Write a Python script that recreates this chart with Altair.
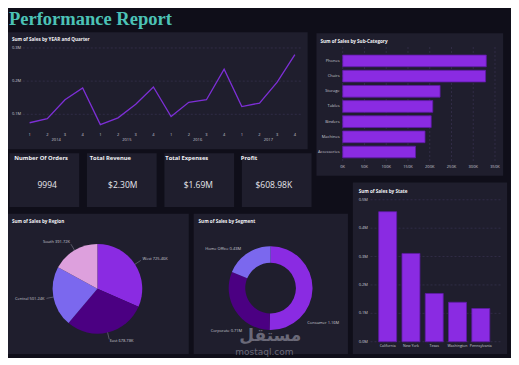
import altair as alt
import pandas as pd

# ---------------- data ----------------
years = ["2014", "2015", "2016", "2017"]
quarters = ["1", "2", "3", "4"]
quarter_sales = [0.0744, 0.0865, 0.1436, 0.1796,
                 0.0689, 0.0891, 0.1303, 0.1823,
                 0.0932, 0.1361, 0.1438, 0.2361,
                 0.1231, 0.1338, 0.1969, 0.2800]
line_ticks = [0.1, 0.2, 0.3]
line_tick_labels = ["0.1M", "0.2M", "0.3M"]

subcats = ["Phones", "Chairs", "Storage", "Tables", "Binders", "Machines", "Accessories"]
subcat_sales = [330.0, 328.4, 223.8, 207.0, 203.4, 189.2, 167.4]
subcat_ticks = [0, 50, 100, 150, 200, 250, 300, 350]
subcat_tick_labels = ["0K", "50K", "100K", "150K", "200K", "250K", "300K", "350K"]

kpi_titles = ["Number Of Orders", "Total Revenue", "Total Expenses", "Profit"]
kpi_values = ["9994", "$2.30M", "$1.69M", "$608.98K"]

regions = ["West", "East", "Central", "South"]
region_sales = [725.46, 678.78, 501.24, 391.72]

segments = ["Consumer", "Corporate", "Home Office"]
segment_sales = [1.16, 0.71, 0.43]

states = ["California", "New York", "Texas", "Washington", "Pennsylvania"]
state_sales = [0.458, 0.311, 0.170, 0.139, 0.117]
state_ticks = [0.0, 0.1, 0.2, 0.3, 0.4, 0.5]
state_tick_labels = ["0.0M", "0.1M", "0.2M", "0.3M", "0.4M", "0.5M"]

# ---------------- style / layout ----------------
W, H = 503, 350
SX, SY = W / 512, H / 359


def X(v):
    return round(v * SX, 2)


def Y(v):
    return round(v * SY, 2)


BG = "#0f0e19"
PANEL = "#1f1e2d"
GRID = "#3d3658"
LINE = "#7d2fd6"
PURPLE = "#8a2be2"
BAR_EDGE = "#5e1aa6"
INDIGO = "#4b0082"
SLATE = "#7b68ee"
PLUM = "#dda0dd"
TEAL = "#4cc2b6"
WHITE = "#f2f2f5"
LABEL = "#c9c9d2"
LEADER = "#8f8f9c"
FONT = "Open Sans"
TS = 4.6   # panel title size
AS = 4.0   # axis label size

one = pd.DataFrame({"k": [0]})


def rect(x0, y0, x1, y1, color=PANEL):
    return alt.Chart(one).mark_rect(color=color).encode(
        x=alt.value(X(x0)), x2=alt.value(X(x1)), y=alt.value(Y(y0)), y2=alt.value(Y(y1)))


def note(txt, x, y, size, color=WHITE, weight="bold", align="left", font=FONT, **kw):
    return alt.Chart(one).mark_text(text=txt, fontSize=size, color=color, fontWeight=weight,
                                    align=align, baseline="middle", font=font, **kw).encode(
        x=alt.value(X(x)), y=alt.value(Y(y)))


L = []

# title
L.append(note("Performance Report", 1, 11.5, 18.5, color=TEAL, font="Liberation Serif"))

# panels
L += [rect(0, 25, 305, 145), rect(314, 26, 504, 172), rect(0, 211, 184, 355),
      rect(189, 211, 346, 355), rect(351, 179, 508, 355)]

# ---------- line chart ----------
line_df = pd.DataFrame({"i": list(range(16)),
                        "year": [y for y in years for q in quarters],
                        "q": quarters * 4, "sales": quarter_sales})
lxs = alt.Scale(domain=[0, 15], range=[X(22), X(292)])
lys = alt.Scale(domain=[0, 0.3], range=[Y(143), Y(41)])
lt_df = pd.DataFrame({"v": line_ticks, "t": line_tick_labels})
L += [
    note("Sum of Sales by YEAR and Quarter", 4, 32.5, TS),
    alt.Chart(lt_df).mark_rule(color=GRID, strokeDash=[2, 2], strokeWidth=0.6).encode(
        y=alt.Y("v:Q", scale=lys, axis=None), x=alt.value(X(15)), x2=alt.value(X(300))),
    alt.Chart(lt_df).mark_text(fontSize=AS, color=LABEL, font=FONT, align="left").encode(
        y=alt.Y("v:Q", scale=lys, axis=None), x=alt.value(X(4)), text="t:N"),
    alt.Chart(line_df).mark_line(color=LINE, strokeWidth=1.3).encode(
        x=alt.X("i:Q", scale=lxs, axis=None), y=alt.Y("sales:Q", scale=lys, axis=None)),
    alt.Chart(line_df).mark_text(fontSize=AS, color=LABEL, font=FONT).encode(
        x=alt.X("i:Q", scale=lxs, axis=None), y=alt.value(Y(130.5)), text="q:N"),
    alt.Chart(line_df).transform_aggregate(c="mean(i)", groupby=["year"]).mark_text(
        fontSize=AS, color=LABEL, font=FONT).encode(
        x=alt.X("c:Q", scale=lxs, axis=None), y=alt.value(Y(135.5)), text="year:N"),
]

# ---------- sub-category bars ----------
sc_df = pd.DataFrame({"sub": subcats, "sales": subcat_sales})
scx = alt.Scale(domain=[0, 350], range=[X(340.7), X(495.7)])
scy = alt.Scale(domain=subcats, range=[Y(46.5), Y(155.5)], paddingInner=0.23, paddingOuter=0.115)
sct_df = pd.DataFrame({"v": subcat_ticks, "t": subcat_tick_labels})
L += [
    note("Sum of Sales by Sub-Category", 318, 34.5, TS),
    alt.Chart(sct_df).mark_rule(color=GRID, strokeDash=[2, 2], strokeWidth=0.6).encode(
        x=alt.X("v:Q", scale=scx, axis=None), y=alt.value(Y(40)), y2=alt.value(Y(158))),
    alt.Chart(sct_df).mark_text(fontSize=AS, color=LABEL, font=FONT).encode(
        x=alt.X("v:Q", scale=scx, axis=None), y=alt.value(Y(163.5)), text="t:N"),
    alt.Chart(sc_df).mark_bar(color=PURPLE, stroke=BAR_EDGE, strokeWidth=0.8).encode(
        x=alt.X("sales:Q", scale=scx, axis=None), y=alt.Y("sub:N", scale=scy, axis=None, sort=None)),
    alt.Chart(sc_df).mark_text(fontSize=AS, color=LABEL, font=FONT, align="right").encode(
        y=alt.Y("sub:N", scale=scy, axis=None, sort=None), x=alt.value(X(337.5)), text="sub:N"),
]

# ---------- KPI cards ----------
kpi_df = pd.DataFrame({"title": kpi_titles, "value": kpi_values})
kxs = alt.Scale(domain=kpi_titles, range=[X(1.5), X(309)], paddingInner=0.1, paddingOuter=0)
L += [
    alt.Chart(kpi_df).mark_rect(color=PANEL).encode(
        x=alt.X("title:N", scale=kxs, axis=None, sort=None), y=alt.value(Y(149)), y2=alt.value(Y(204))),
    alt.Chart(kpi_df).mark_text(fontSize=5.8, color=WHITE, font=FONT, fontWeight="bold",
                                align="left", dx=-33).encode(
        x=alt.X("title:N", scale=kxs, axis=None, sort=None), y=alt.value(Y(153.5)), text="title:N"),
    alt.Chart(kpi_df).mark_text(fontSize=8.5, color="#e6e6ec", font=FONT).encode(
        x=alt.X("title:N", scale=kxs, axis=None, sort=None), y=alt.value(Y(181.5)), text="value:N"),
]

# ---------- region pie ----------
reg_df = pd.DataFrame({"region": regions, "sales": region_sales})
pcx, pcy, pr = X(91), Y(288), 46 * SY
L.append(note("Sum of Sales by Region", 4, 219, TS))
L.append(alt.Chart(reg_df).mark_arc(outerRadius=pr).encode(
    theta=alt.Theta("sales:Q", stack=True),
    color=alt.Color("region:N", scale=alt.Scale(domain=regions, range=[PURPLE, INDIGO, SLATE, PLUM]),
                    legend=None),
    order=alt.Order("sales:Q", sort="descending"),
    x=alt.value(pcx), y=alt.value(pcy)))


def polar(base, cx, cy, r_lab, r0, r1, fmt, unit):
    return base.transform_joinaggregate(total="sum(sales)").transform_window(
        cum="sum(sales)", sort=[alt.SortField("sales", order="descending")]
    ).transform_calculate(
        ang="2*PI*(datum.cum - datum.sales/2)/datum.total"
    ).transform_calculate(
        lab=f"datum.name + ' ' + format(datum.sales, '{fmt}') + '{unit}'",
        tx=f"{cx} + {r_lab}*sin(datum.ang)", ty=f"{cy} - {r_lab}*cos(datum.ang)",
        ax=f"{cx} + {r0}*sin(datum.ang)", ay=f"{cy} - {r0}*cos(datum.ang)",
        bx=f"{cx} + {r1}*sin(datum.ang)", by=f"{cy} - {r1}*cos(datum.ang)",
    )


pie_lab = polar(alt.Chart(reg_df.rename(columns={"region": "name"})), pcx, pcy, pr + 9, pr, pr + 7, ".2f", "K")
L += [
    pie_lab.mark_rule(color=LEADER, strokeWidth=0.5).encode(
        x=alt.X("ax:Q", scale=None, axis=None), y=alt.Y("ay:Q", scale=None, axis=None),
        x2="bx:Q", y2="by:Q"),
    pie_lab.transform_filter("sin(datum.ang) >= 0").mark_text(
        fontSize=AS, color=LABEL, font=FONT, align="left").encode(
        x=alt.X("tx:Q", scale=None, axis=None), y=alt.Y("ty:Q", scale=None, axis=None), text="lab:N"),
    pie_lab.transform_filter("sin(datum.ang) < 0").mark_text(
        fontSize=AS, color=LABEL, font=FONT, align="right").encode(
        x=alt.X("tx:Q", scale=None, axis=None), y=alt.Y("ty:Q", scale=None, axis=None), text="lab:N"),
]

# ---------- segment donut ----------
seg_df = pd.DataFrame({"segment": segments, "sales": segment_sales})
dcx, dcy, dro, dri = X(267.3), Y(287.3), 43 * SY, 26 * SY
L.append(note("Sum of Sales by Segment", 194, 219, TS))
L.append(alt.Chart(seg_df).mark_arc(outerRadius=dro, innerRadius=dri).encode(
    theta=alt.Theta("sales:Q", stack=True),
    color=alt.Color("segment:N", scale=alt.Scale(domain=segments, range=[PURPLE, INDIGO, SLATE]),
                    legend=None),
    order=alt.Order("sales:Q", sort="descending"),
    x=alt.value(dcx), y=alt.value(dcy)))

don_lab = polar(alt.Chart(seg_df.rename(columns={"segment": "name"})), dcx, dcy, 50 * SY, dro, dro + 5, ".2f", "M")
for seg, align, dx, dy in [("Consumer", "left", -12, 34), ("Corporate", "right", 12.5, 16),
                           ("Home Office", "right", -2.5, 1.5)]:
    L.append(don_lab.transform_filter(f"datum.name == '{seg}'").mark_text(
        fontSize=AS, color=LABEL, font=FONT, align=align, dx=dx, dy=dy).encode(
        x=alt.X("tx:Q", scale=None, axis=None), y=alt.Y("ty:Q", scale=None, axis=None), text="lab:N"))

# ---------- state bars ----------
st_df = pd.DataFrame({"state": states, "sales": state_sales})
stx = alt.Scale(domain=states, range=[X(374.6), X(493.1)], paddingInner=0.228, paddingOuter=0.114)
sty = alt.Scale(domain=[0, 0.5], range=[Y(342.3), Y(196.7)])
stt_df = pd.DataFrame({"v": state_ticks, "t": state_tick_labels})
L += [
    note("Sum of Sales by State", 357, 188.5, TS),
    alt.Chart(stt_df).mark_rule(color=GRID, strokeDash=[2, 2], strokeWidth=0.6).encode(
        y=alt.Y("v:Q", scale=sty, axis=None), x=alt.value(X(369)), x2=alt.value(X(502))),
    alt.Chart(stt_df).mark_text(fontSize=AS, color=LABEL, font=FONT, align="left").encode(
        y=alt.Y("v:Q", scale=sty, axis=None), x=alt.value(X(357)), text="t:N"),
    alt.Chart(st_df).mark_bar(color=PURPLE, stroke=BAR_EDGE, strokeWidth=0.8).encode(
        x=alt.X("state:N", scale=stx, axis=None, sort=None), y=alt.Y("sales:Q", scale=sty, axis=None)),
    alt.Chart(st_df).mark_text(fontSize=3.6, color=LABEL, font=FONT).encode(
        x=alt.X("state:N", scale=stx, axis=None, sort=None), y=alt.value(Y(346.5)), text="state:N"),
]

# ---------- watermark ----------
L += [
    note("مستقل", 267, 336.5, 17, color="#9c9caa", font="DejaVu Sans", align="center", opacity=0.6),
    note("mostaql.com", 261, 353, 9, color="#9c9caa", weight="normal", font="DejaVu Sans",
         align="center", opacity=0.6),
]

chart = alt.layer(*L).properties(
    width=W, height=H, background=BG, padding=0,
    autosize=alt.AutoSizeParams(type="none"),
).resolve_scale(
    x="independent", y="independent", theta="independent", color="independent"
).configure_view(stroke=None)

chart.save("out.html", embed_options={"renderer": "svg", "actions": False})
